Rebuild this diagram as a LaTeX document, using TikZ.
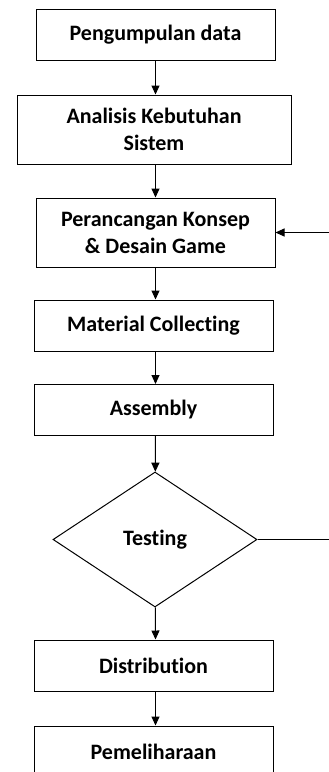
\documentclass[tikz,border=0pt]{standalone}
\usepackage{fontspec}
\setmainfont{Carlito}[Ligatures={NoCommon}]
\usetikzlibrary{shapes.geometric,arrows.meta}

\begin{document}
\begin{tikzpicture}[x=1pt,y=-1pt,line width=1pt,
    box/.style={draw,minimum width=239pt,minimum height=51pt,inner sep=0pt,align=center,font=\fontsize{22}{27}\selectfont\bfseries},
    >={Triangle[length=9pt,width=8pt]}]
    \clip (0,0) rectangle (329,772);
    \node[box](a) at (155.5,35)  {Pengumpulan data};
    \node[box,minimum width=274pt,minimum height=69pt](b) at (154,129.5)  {Analisis Kebutuhan\\Sistem};
    \node[box,minimum height=69pt](c) at (155.5,232.5)  {Perancangan Konsep\\\& Desain Game};
    \node[box](d) at (153.5,325.5)  {Material Collecting};
    \node[box](e) at (153.5,410)  {Assembly};
    \node[box,shape=diamond,minimum width=204pt,minimum height=135pt](t) at (155,539.5)  {Testing};
    \node[box](f) at (153.5,665.5)  {Distribution};
    \node[box](g) at (153.5,751.5)  {Pemeliharaan};
    \coordinate(r1) at (329,539.5);
    \coordinate(r2) at (329,232.5);
    \draw[->] (a) to (a|-b.north);
    \draw[->] (a|-b.south) to (a|-c.north);
    \draw[->] (a|-c.south) to (a|-d.north);
    \draw[->] (a|-d.south) to (a|-e.north);
    \draw[->] (a|-e.south) to (t);
    \draw[->] (t) to (a|-f.north);
    \draw[->] (a|-f.south) to (a|-g.north);
    \draw (t.east) to (r1);
    \draw[->] (r2) to (c.east);
\end{tikzpicture}
\end{document}
